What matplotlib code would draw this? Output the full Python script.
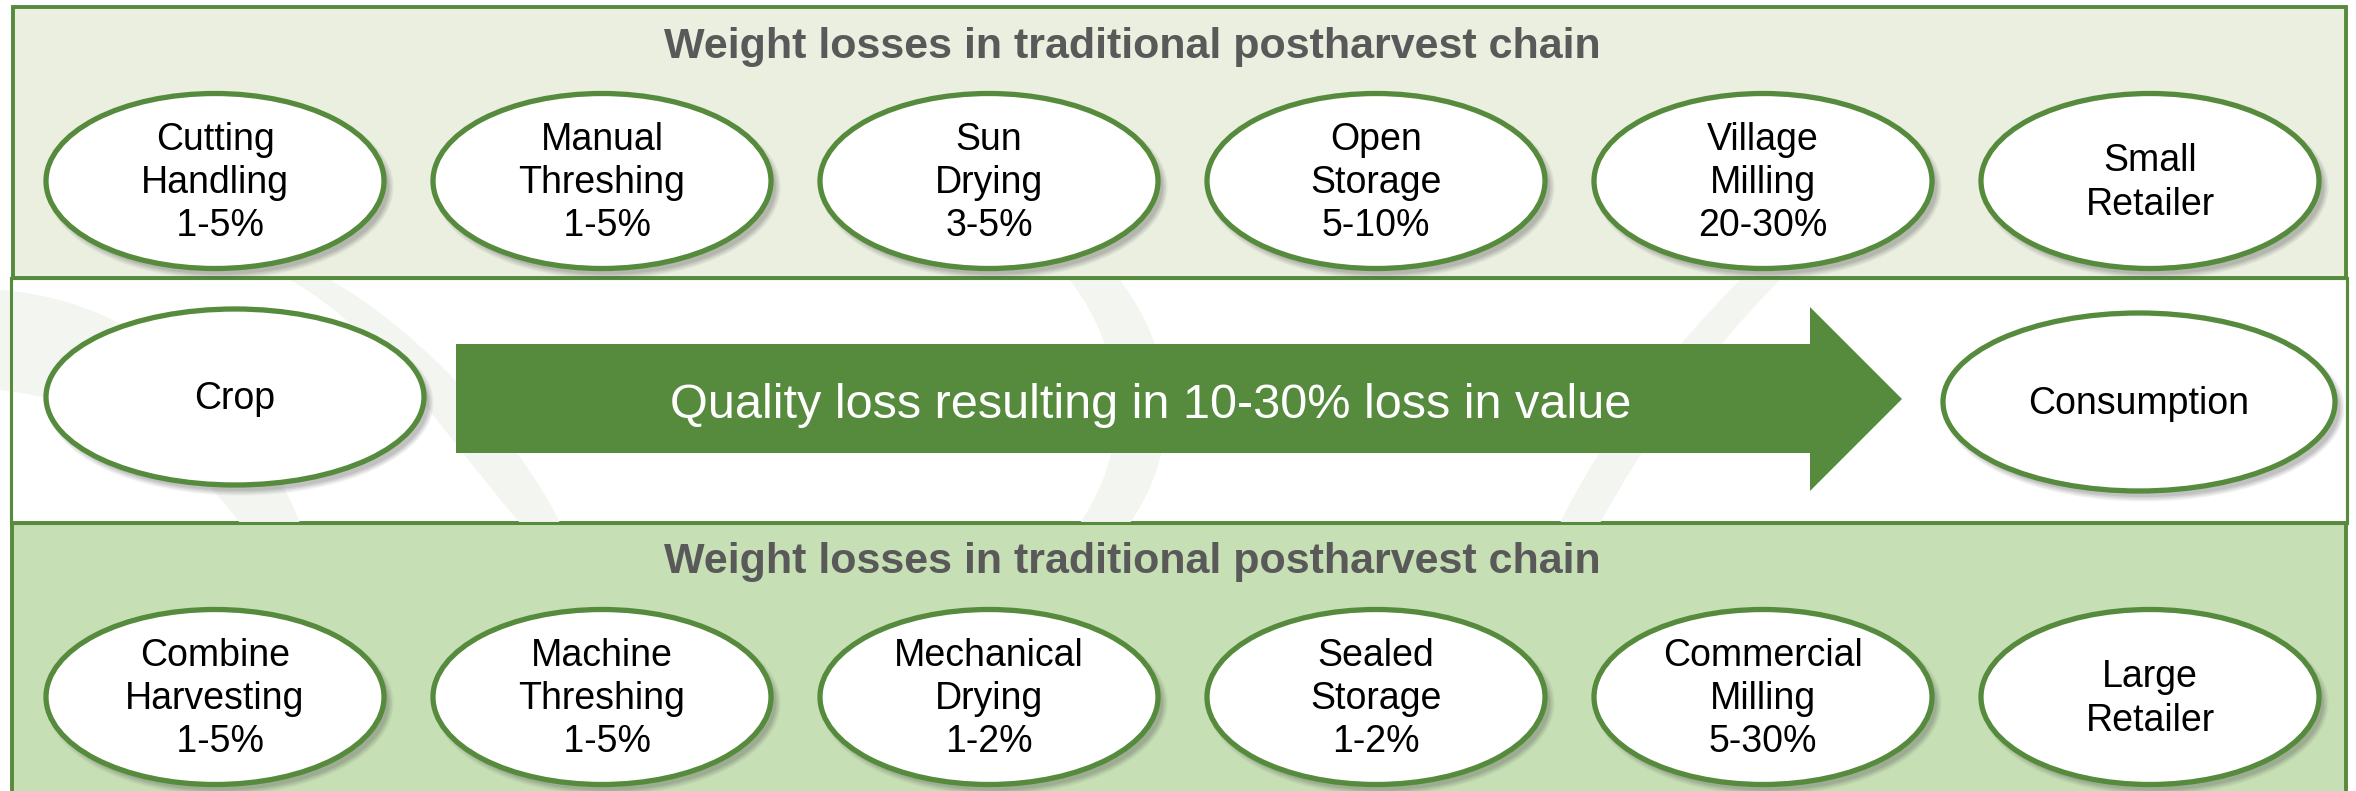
import numpy as np
import matplotlib
matplotlib.use('Agg')
import matplotlib.pyplot as plt
from matplotlib.patches import Ellipse, Rectangle, Polygon, PathPatch
from matplotlib.path import Path

# labels
top_title = "Weight losses in traditional postharvest chain"
bottom_title = "Weight losses in traditional postharvest chain"
top_steps = ["Cutting\nHandling\n 1-5%", "Manual\nThreshing\n 1-5%", "Sun\nDrying\n3-5%",
             "Open\nStorage\n5-10%", "Village\nMilling\n20-30%", "Small\nRetailer"]
bottom_steps = ["Combine\nHarvesting\n 1-5%", "Machine\nThreshing\n 1-5%", "Mechanical\nDrying\n1-2%",
                "Sealed\nStorage\n1-2%", "Commercial\nMilling\n5-30%", "Large\nRetailer"]
start_node = "Crop"
end_node = "Consumption"
arrow_text = "Quality loss resulting in 10-30% loss in value"

W, H = 2356, 791
green = '#568A3C'
top_fill = '#EAEFDF'
bot_fill = '#C6DFB4'
grey_txt = '#595959'
plt.rcParams['font.family'] = ['Liberation Sans', 'DejaVu Sans']

fig = plt.figure(figsize=(W / 100, H / 100), dpi=100)
ax = fig.add_axes([0, 0, 1, 1])
ax.set_xlim(0, W)
ax.set_ylim(H, 0)
ax.axis('off')

# bands
ax.add_patch(Rectangle((13, 7), 2333, 271, facecolor=top_fill, edgecolor=green, lw=2.8, zorder=1))
ax.add_patch(Rectangle((11, 278), 2336, 245, facecolor='white', edgecolor=green, lw=2.2, zorder=1))
ax.add_patch(Rectangle((12, 523), 2334, 290, facecolor=bot_fill, edgecolor=green, lw=2.8, zorder=1))

# faint leaf-like swirls behind the middle band
C4 = Path.CURVE4
swirls = [
    ([(0, 290), (150, 300), (260, 420), (300, 523), (240, 523), (180, 440), (90, 400), (0, 390), (0, 290)],
     [Path.MOVETO, C4, C4, C4, Path.LINETO, C4, C4, C4, Path.CLOSEPOLY]),
    ([(330, 280), (420, 330), (520, 440), (560, 523), (520, 523), (440, 430), (380, 330), (290, 280), (330, 280)],
     [Path.MOVETO, C4, C4, C4, Path.LINETO, C4, C4, C4, Path.CLOSEPOLY]),
    ([(1120, 280), (1180, 360), (1180, 450), (1130, 523), (1080, 523), (1130, 450), (1130, 360), (1070, 280), (1120, 280)],
     [Path.MOVETO, C4, C4, C4, Path.LINETO, C4, C4, C4, Path.CLOSEPOLY]),
    ([(1780, 280), (1700, 360), (1640, 450), (1600, 523), (1560, 523), (1600, 440), (1670, 350), (1740, 280), (1780, 280)],
     [Path.MOVETO, C4, C4, C4, Path.LINETO, C4, C4, C4, Path.CLOSEPOLY]),
]
for verts, codes in swirls:
    ax.add_patch(PathPatch(Path(verts, codes), facecolor='#F3F5F0', edgecolor='none', zorder=1.5))
# redraw the band borders over the swirls
ax.add_patch(Rectangle((11, 278), 2336, 245, facecolor='none', edgecolor=green, lw=2.2, zorder=1.6))


def node(x, y, w, h, text):
    for k, a in enumerate([0.08, 0.09, 0.11, 0.13]):
        grow = (3 - k) * 3
        ax.add_patch(Ellipse((x + 5, y + 6), w + grow, h + grow, facecolor='#555555',
                             edgecolor='none', alpha=a, zorder=2))
    ax.add_patch(Ellipse((x, y), w, h, facecolor='white', edgecolor=green, lw=3.8, zorder=3))
    ax.text(x, y + 2, text, ha='center', va='center', fontsize=27, color='black',
            linespacing=1.26, zorder=4)


xs = np.linspace(215, 2150, len(top_steps))
for x, t in zip(xs, top_steps):
    node(x, 181, 338, 175, t)
for x, t in zip(xs, bottom_steps):
    node(x, 697, 338, 175, t)

node(235, 397, 378, 176, start_node)
node(2139, 402, 392, 178, end_node)

# big arrow
arrow = [(456, 344), (1810, 344), (1810, 307), (1902, 399), (1810, 491), (1810, 453), (456, 453)]
ax.add_patch(Polygon(arrow, closed=True, facecolor=green, edgecolor='none', zorder=3))
ax.text(1151, 406, arrow_text, ha='center', va='center', fontsize=35, color='white', zorder=4)

ax.text(1132, 47, top_title, ha='center', va='center', fontsize=31, fontweight='bold',
        color=grey_txt, zorder=4)
ax.text(1132, 562, bottom_title, ha='center', va='center', fontsize=31, fontweight='bold',
        color=grey_txt, zorder=4)

fig.savefig('out.png', dpi=100)
